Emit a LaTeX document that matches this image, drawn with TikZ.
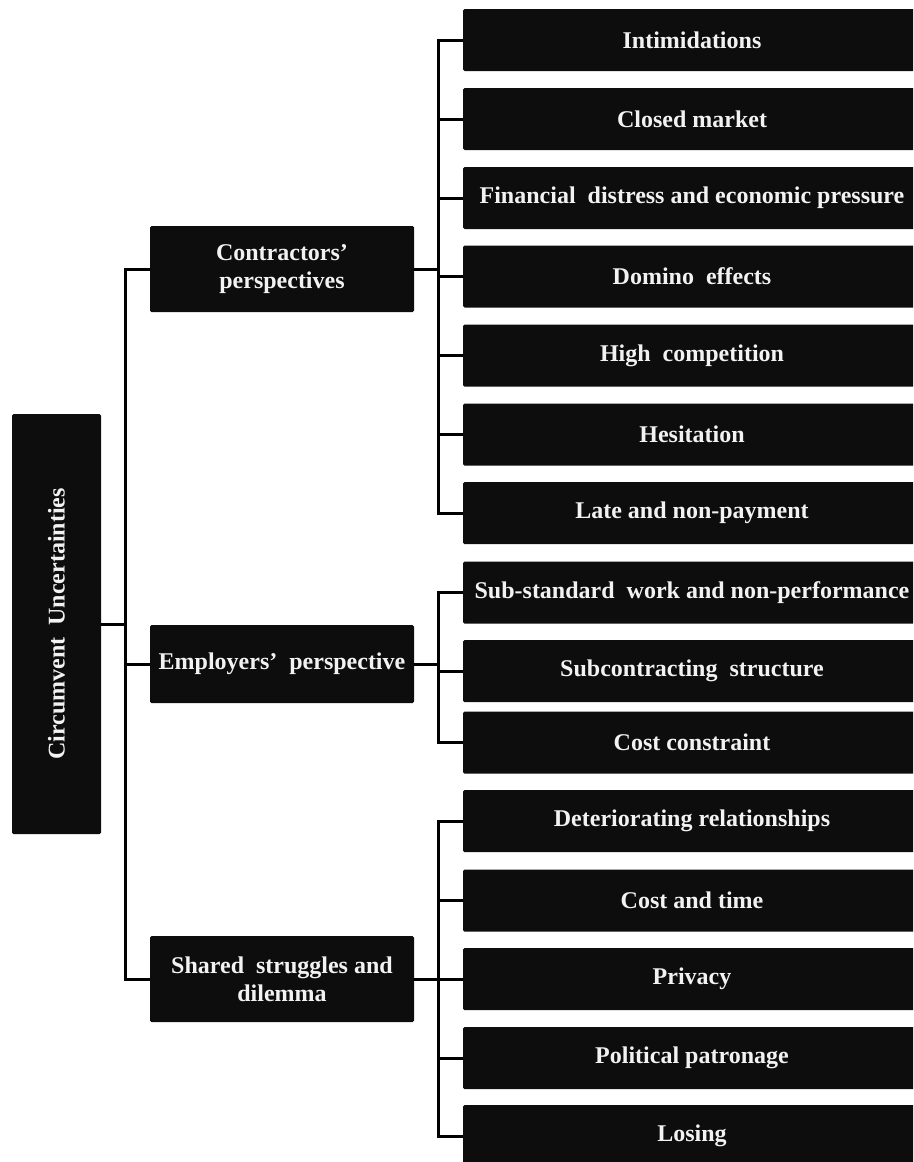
\documentclass[tikz,border=0pt]{standalone}
\usepackage{fontspec}
\setmainfont{Liberation Serif}
\definecolor{boxfill}{HTML}{0D0D0D}
\definecolor{boxtext}{HTML}{F2F2F2}
\newcommand{\wsp}{\hspace{0.25em}}
\begin{document}
\begin{tikzpicture}[x=1pt,y=-1pt,
  box/.style={fill=boxfill, draw=none, rounded corners=1.5pt, text=boxtext,
    font=\bfseries\fontsize{24}{28}\selectfont, align=center, inner sep=0pt},
  leaf/.style={box, minimum width=458pt, minimum height=62pt},
  mid/.style={box, minimum width=264pt},
  conn/.style={line width=3pt, draw=black, line join=miter}]
\useasboundingbox (0,0) rectangle (913,1162);
\clip (0,0) rectangle (913,1162);
\coordinate (trunk) at (125,0);
\coordinate (bus) at (438,0);
% root
\node[box, rotate=90, minimum width=420pt, minimum height=89pt] (root) at (56.5,624) {Circumvent\wsp{} Uncertainties};
% middle level
\node[mid, minimum height=86pt] (c) at (282,269) {Contractors'\\perspectives};
\node[mid, minimum height=78pt] (e) at (282,664) {Employers'\wsp{} perspective};
\node[mid, minimum height=86pt] (s) at (282,979) {Shared\wsp{} struggles and\\dilemma};
% leaves
\node[leaf] (l1) at (692,40) {Intimidations};
\node[leaf] (l2) at (692,119) {Closed market};
\node[leaf] (l3) at (692,198) {Financial\wsp{} distress and economic pressure};
\node[leaf] (l4) at (692,276.5) {Domino\wsp{} effects};
\node[leaf] (l5) at (692,355.5) {High\wsp{} competition};
\node[leaf] (l6) at (692,434.5) {Hesitation};
\node[leaf] (l7) at (692,513) {Late and non-payment};
\node[leaf] (l8) at (692,592.5) {Sub-standard\wsp{} work and non-performance};
\node[leaf] (l9) at (692,671) {Subcontracting\wsp{} structure};
\node[leaf] (l10) at (692,742.5) {Cost constraint};
\node[leaf] (l11) at (692,821) {Deteriorating relationships};
\node[leaf] (l12) at (692,900.5) {Cost and time};
\node[leaf] (l13) at (692,979) {Privacy};
\node[leaf] (l14) at (692,1058) {Political patronage};
\node[leaf] (l15) at (692,1136) {Losing};
% trunk
\draw[conn] (root.south) -- (root.south -| trunk);
\draw[conn] (c.west) -- (c.west -| trunk) -- (s.west -| trunk) -- (s.west);
\draw[conn] (e.west) -- (e.west -| trunk);
% contractors group
\draw[conn] (c.east) -- (c.east -| bus);
\draw[conn] (l1.west) -- (l1.west -| bus) -- (l7.west -| bus) -- (l7.west);
\foreach \n in {l2,l3,l4,l5,l6} \draw[conn] (\n.west) -- (\n.west -| bus);
% employers group
\draw[conn] (e.east) -- (e.east -| bus);
\draw[conn] (l8.west) -- (l8.west -| bus) -- (l10.west -| bus) -- (l10.west);
\draw[conn] (l9.west) -- (l9.west -| bus);
% shared group
\draw[conn] (s.east) -- (s.east -| bus);
\draw[conn] (l11.west) -- (l11.west -| bus) -- (l15.west -| bus) -- (l15.west);
\foreach \n in {l12,l13,l14} \draw[conn] (\n.west) -- (\n.west -| bus);
\end{tikzpicture}
\end{document}
